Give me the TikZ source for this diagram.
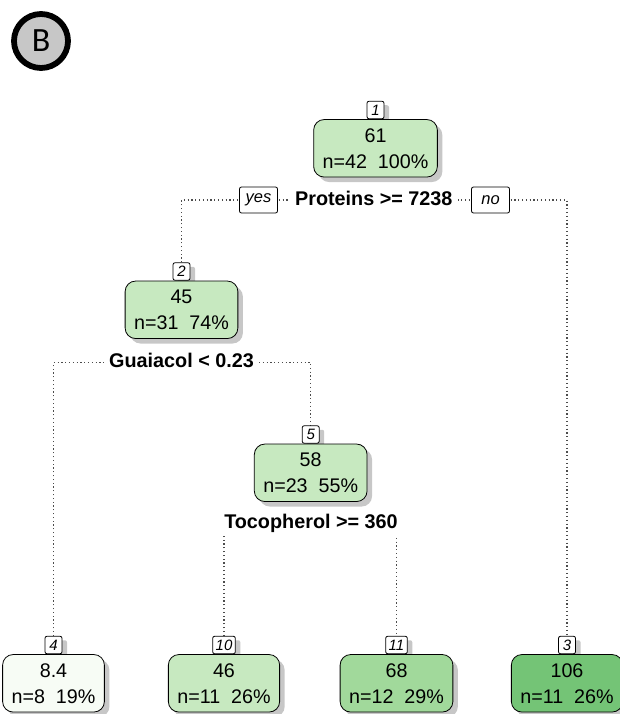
\documentclass[tikz,border=0pt]{standalone}
\usepackage{fontspec}
\setmainfont{Liberation Sans}
\newfontfamily\badgefont{Carlito}
\usetikzlibrary{positioning,shadows,backgrounds}
\definecolor{g0}{HTML}{F7FCF5}
\definecolor{g1}{HTML}{C7E9C0}
\definecolor{g2}{HTML}{A1D99B}
\definecolor{g3}{HTML}{74C476}
\begin{document}
\begin{tikzpicture}[x=1pt,y=-1pt,
		box/.style={draw, line width=0.8pt, rounded corners=10.5pt, align=center,
			minimum width=100pt, minimum height=57.5pt, inner xsep=9pt, inner ysep=0pt,
			font=\fontsize{19.7}{26}\selectfont, execute at begin node={\rule{0pt}{23pt}},
			drop shadow={shadow xshift=5pt, shadow yshift=-5pt, fill=black!22, opacity=1}},
		numbox/.style={draw, fill=white, rounded corners=2pt, line width=0.8pt,
			minimum width=17pt, minimum height=17.5pt, inner xsep=3pt, inner ysep=0pt,
			font=\fontsize{15}{15}\selectfont\itshape,
			drop shadow={shadow xshift=5pt, shadow yshift=-4pt, fill=black!22, opacity=1}},
		split/.style={fill=white, inner xsep=5pt, inner ysep=3pt, text height=14.5pt, text depth=4pt,
			font=\fontsize{19.8}{24}\selectfont\bfseries},
		yesno/.style={draw, fill=white, rounded corners=2pt, line width=0.8pt,
			minimum width=38pt, minimum height=26pt, inner sep=0pt,
			font=\fontsize{16.5}{16.5}\selectfont\itshape},
		branch/.style={draw=black!70, line width=1.2pt, dash pattern=on 1.2pt off 2.6pt}]
	\useasboundingbox (0,0) rectangle (619,714);
	\node[circle, draw, line width=5.8pt, fill=black!22, minimum size=54pt, inner sep=0pt,
		font=\badgefont\fontsize{34}{34}\selectfont] (badge) at (41,41) {B};
	% inner nodes
	\node[numbox] (t1) at (375.5,110) {1};
	\node[box, fill=g1, below=0pt of t1] (n1) {61\\n=42~~100\%};
	\node[numbox] (t2) at (181.5,271.5) {2};
	\node[box, fill=g1, below=0pt of t2] (n2) {45\\n=31~~74\%};
	\node[numbox] (t5) at (310.7,434.5) {5};
	\node[box, fill=g1, below=0pt of t5] (n5) {58\\n=23~~55\%};
	% leaves
	\node[numbox] (t4) at (53.5,645) {4};
	\node[box, fill=g0, below=0pt of t4] (n4) {8.4\\n=8~~19\%};
	\node[numbox] (t10) at (224,645) {10};
	\node[box, fill=g1, below=0pt of t10] (n10) {46\\n=11~~26\%};
	\node[numbox] (t11) at (396.5,645) {11};
	\node[box, fill=g2, below=0pt of t11] (n11) {68\\n=12~~29\%};
	\node[numbox] (t3) at (567,645) {3};
	\node[box, fill=g3, below=0pt of t3] (n3) {106\\n=11~~26\%};
	% splits
	\node[split] (s1) at (373.8,200) {Proteins >= 7238};
	\node[yesno] (yes) at (258.5,200) {yes};
	\node[yesno] (no) at (490.5,200) {no};
	\node[split] (s2) at (181.5,362.5) {Guaiacol < 0.23};
	\node[split] (s5) at (311,523) {Tocopherol >= 360};
	\begin{scope}[on background layer]
		\draw[branch] (t2.north) |- (s1.center) -| (t3.north);
		\draw[branch] (t4.north) |- (s2.center) -| (t5.north);
		\draw[branch] (t10.north) |- (s5.center) -| (t11.north);
	\end{scope}
\end{tikzpicture}
\end{document}
